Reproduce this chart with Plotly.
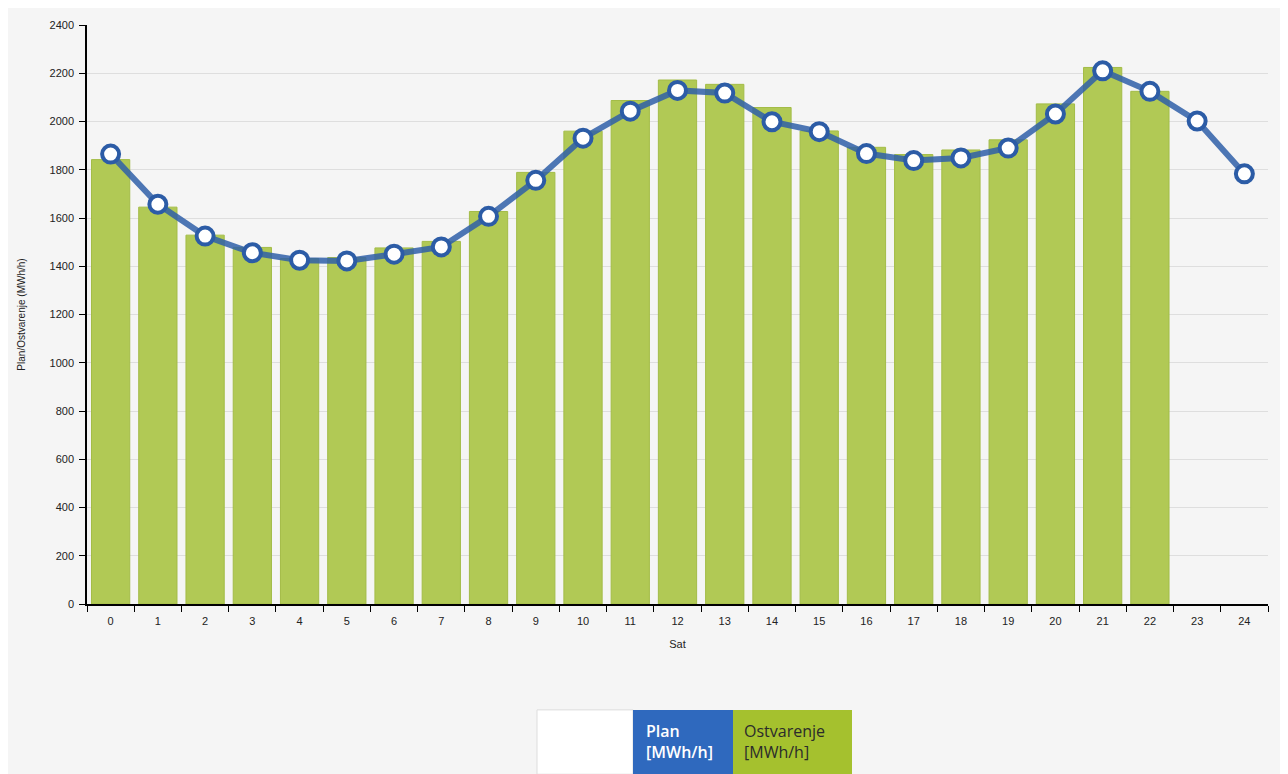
import plotly.graph_objects as go

hours = [str(h) for h in range(25)]
plan = [1865, 1657, 1525, 1456, 1425, 1422, 1450, 1480, 1607, 1756, 1931, 2043, 2129, 2118,
        1999, 1958, 1867, 1838, 1849, 1890, 2031, 2210, 2125, 2002, 1783]
ostvarenje = [1842, 1645, 1529, 1478, 1432, 1436, 1476, 1503, 1627, 1789, 1960, 2087, 2172, 2154,
              2058, 1961, 1893, 1863, 1882, 1924, 2073, 2224, 2125]
legend_labels = [("Plan", "[MWh/h]"), ("Ostvarenje", "[MWh/h]")]

# page has an 8px body margin; figure coords = screenshot coords - 8
OFF = 8
W, H = 1280, 766
L, R, T, B = 87 - OFF, 1268 - OFF, 19 - OFF, 604 - OFF

def px(x):
    return (x - OFF - L) / (R - L)

def py(y):
    return (B - (y - OFF)) / (B - T)

fig = go.Figure()
fig.add_trace(go.Bar(
    x=hours[:len(ostvarenje)], y=ostvarenje, name="Ostvarenje [MWh/h]",
    marker=dict(color="#b1c955", line=dict(color="#a3bc47", width=1)),
    showlegend=False,
))
fig.add_trace(go.Scatter(
    x=hours, y=plan, name="Plan [MWh/h]", mode="lines+markers",
    line=dict(color="rgba(47,95,168,0.85)", width=6),
    marker=dict(size=17, color="white", line=dict(color="#2c5ca6", width=4)),
    showlegend=False,
))

shapes = [
    dict(type="rect", xref="paper", yref="paper", x0=px(537), x1=px(633), y0=py(776), y1=py(711),
         fillcolor="white", line=dict(color="#dddddd", width=1)),
    dict(type="rect", xref="paper", yref="paper", x0=px(633), x1=px(733), y0=py(776), y1=py(711),
         fillcolor="#2f69be", line=dict(width=0)),
    dict(type="rect", xref="paper", yref="paper", x0=px(733), x1=px(852), y0=py(776), y1=py(711),
         fillcolor="#a5c12e", line=dict(width=0)),
]

annotations = []
for (l1, l2), x0, col, wt in [(legend_labels[0], 644, "white", 600),
                              (legend_labels[1], 742, "#2b2b2b", 400)]:
    annotations.append(dict(
        xref="paper", yref="paper", x=px(x0), y=py(743), xanchor="left", yanchor="middle",
        text=l1 + "<br>" + l2, showarrow=False, align="left",
        font=dict(family="Open Sans, Noto Sans, sans-serif", size=16, color=col, weight=wt)))

fig.update_layout(
    width=W, height=H,
    margin=dict(l=L, r=W - R, t=T, b=H - B, pad=0),
    paper_bgcolor="#f5f5f5", plot_bgcolor="#f5f5f5",
    bargap=0.19,
    font=dict(family="Liberation Sans, Arial, sans-serif", size=11, color="#222"),
    shapes=shapes, annotations=annotations,
    xaxis=dict(
        type="category", tickson="boundaries", ticks="outside", ticklen=6, tickcolor="#000",
        showline=True, linecolor="#000", linewidth=1.5, showgrid=False,
        title=dict(text="Sat", font=dict(size=11), standoff=14),
        tickfont=dict(size=11), ticklabelstandoff=6, range=[-0.5, 24.5],
    ),
    yaxis=dict(
        range=[0, 2400], dtick=200, ticks="outside", ticklen=6, tickcolor="#000",
        showline=True, linecolor="#000", linewidth=1.5,
        showgrid=True, gridcolor="#dedede", gridwidth=1, zeroline=False,
        title=dict(text="Plan/Ostvarenje (MWh/h)", font=dict(size=10), standoff=22),
        tickfont=dict(size=11), ticklabelstandoff=3,
    ),
)

fig.write_html("out.html")
